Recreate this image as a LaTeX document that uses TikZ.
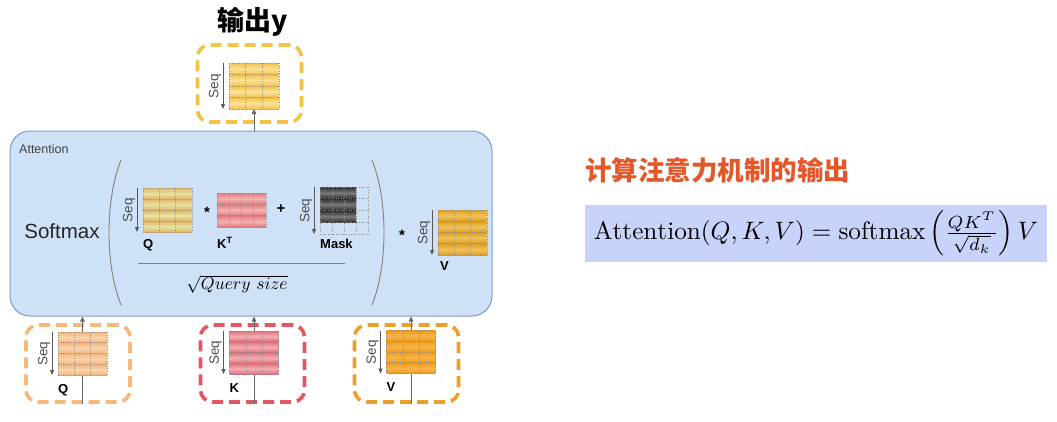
\documentclass[tikz,border=0pt]{standalone}
\usepackage{fontspec}
\usepackage{graphicx}
\usetikzlibrary{calc,arrows.meta}
\newfontfamily\arial{Liberation Sans}
\newfontfamily\cjk{Noto Sans CJK SC}

\definecolor{attfill}{HTML}{CFE1F7}
\definecolor{attline}{HTML}{7A9CC4}
\definecolor{fboxc}{HTML}{C8D3F9}
\definecolor{orangetitle}{HTML}{E2582A}
\definecolor{youtl}{HTML}{FCE39A}
\definecolor{youtd}{HTML}{F2C14A}
\definecolor{yboxc}{HTML}{F3C443}
\definecolor{qattl}{HTML}{E6E4A4}
\definecolor{qattd}{HTML}{E2B567}
\definecolor{ktl}{HTML}{F4B3B3}
\definecolor{ktd}{HTML}{E07C80}
\definecolor{maskhi}{HTML}{7A7A7A}
\definecolor{masklo}{HTML}{2E2E2E}
\definecolor{vattl}{HTML}{F2C35A}
\definecolor{vattd}{HTML}{DB9E22}
\definecolor{qinl}{HTML}{FAD5AC}
\definecolor{qind}{HTML}{F3B57E}
\definecolor{qboxc}{HTML}{F6B97B}
\definecolor{kinl}{HTML}{F2AEB4}
\definecolor{kind}{HTML}{DD717C}
\definecolor{kboxc}{HTML}{E35762}
\definecolor{vinl}{HTML}{F9B44A}
\definecolor{vind}{HTML}{EE9B1E}
\definecolor{vboxc}{HTML}{EC9F2C}

% dotted cell grid over a matrix node: (node)(cols:rows)
\def\cellgrid(#1)(#2:#3){%
	\foreach \i in {0,...,#2}
		\draw[cellline] ($(#1.north west)!{\i/#2}!(#1.north east)$) -- ($(#1.south west)!{\i/#2}!(#1.south east)$);
	\foreach \j in {0,...,#3}
		\draw[cellline] ($(#1.north west)!{\j/#3}!(#1.south west)$) -- ($(#1.north east)!{\j/#3}!(#1.south east)$);
}
% shaded rows plus grid: (node)(cols:rows:light:dark)
\def\stripes(#1)(#2:#3:#4:#5){%
	\foreach \j in {1,...,#3}
		\shade[top color=#5, bottom color=#5, middle color=#4] ($(#1.north west)!{(\j-1)/#3}!(#1.south west)$) rectangle ($(#1.north east)!{\j/#3}!(#1.south east)$);
	\cellgrid(#1)(#2:#3)
}
% the little "Seq" arrow on the left of a matrix
\def\seqarrow(#1){\draw[seqline] ([xshift=-6pt]#1.north west) -- ([xshift=-6pt]#1.south west) node[midway, seqlbl] {Seq};}

\begin{document}
\begin{tikzpicture}[x=1pt, y=-1pt,
	flow/.style={draw=black!60, line width=0.9pt, -{Triangle[length=5pt,width=4.5pt]}},
	seqline/.style={draw=black!65, line width=0.8pt, -{Triangle[length=5pt,width=4pt]}},
	seqlbl/.style={rotate=90, anchor=south, inner sep=1.5pt, text=black!70, font=\arial\fontsize{13.5}{15}\selectfont},
	lbl/.style={anchor=base west, inner sep=0pt, font=\arial\bfseries\fontsize{13}{15}\selectfont},
	op/.style={anchor=base, inner sep=0pt, font=\arial\bfseries\fontsize{15}{17}\selectfont},
	matbox/.style={inner sep=0pt, outer sep=0pt},
	dashbox/.style={draw=#1, line width=3.6pt, dash pattern=on 11pt off 6pt, rounded corners=12pt, minimum width=104pt, minimum height=77pt, inner sep=0pt},
	attbox/.style={draw=attline, fill=attfill, line width=1pt, rounded corners=20pt, inner sep=0pt},
	cellline/.style={draw=black!45, line width=0.6pt, dotted},
	paren/.style={draw=black!50, line width=0.9pt}]
	\useasboundingbox (0,0) rectangle (1057,421);

	% the output y on top
	\node[font=\cjk\bfseries\fontsize{27}{30}\selectfont] (ytitle) at (253,22) {输出y};
	\node[dashbox=yboxc] (ybox) at (249.5,83.5) {};
	\node[matbox, minimum width=50pt, minimum height=46pt] (ymat) at (254,86) {};

	% the attention block, with softmax, the two brackets and the fraction
	\node[attbox, minimum width=482pt, minimum height=185pt] (att) at (251,223.5) {};
	\node[anchor=west, inner sep=0pt, text=black!75, font=\arial\fontsize{12.5}{14}\selectfont] (attlbl) at (19,149) {Attention};
	\node[inner sep=0pt, text=black!85, font=\arial\fontsize{20.5}{24}\selectfont] (softmax) at (62,231) {Softmax};
	\draw[paren] (121,160) .. controls (105,200) and (105,265) .. (121,305);
	\draw[paren] (372,160) .. controls (388,200) and (388,265) .. (372,305);
	\draw[paren] (138,263) -- (345,263);
	\node[inner sep=0pt] (qsize) at (237,284) {\scalebox{1.75}{$\sqrt{Query\ size}$}};

	% matrices inside the attention block
	\node[matbox, minimum width=49pt, minimum height=44pt] (qm) at (167.5,210) {};
	\node[matbox, minimum width=49pt, minimum height=34pt] (ktm) at (241.5,210) {};
	\node[matbox, minimum width=48pt, minimum height=47pt] (maskm) at (344,210.5) {};
	\node[matbox, minimum width=36pt, minimum height=35.25pt, anchor=north west] (maskd) at (maskm.north west) {};
	\node[matbox, minimum width=49pt, minimum height=45pt] (vm) at (462.5,232.5) {};
	\node[op] (mulk) at (207,217) {*};
	\node[op] (plusm) at (281,213) {+};
	\node[op] (mulv) at (402,240.5) {*};

	% the three inputs at the bottom
	\node[dashbox=qboxc] (qbox) at (78,363.5) {};
	\node[dashbox=kboxc] (kbox) at (252.5,363.5) {};
	\node[dashbox=vboxc] (vbox) at (406.5,363.5) {};
	\node[matbox, minimum width=49pt, minimum height=43pt] (qin) at (82.5,353.5) {};
	\node[matbox, minimum width=49pt, minimum height=43pt] (kin) at (254,352.5) {};
	\node[matbox, minimum width=49pt, minimum height=43pt] (vin) at (411,352) {};

	% inputs run up into the block, the block runs up into y
	\draw[flow] (qin.south |- qbox.south) -- (qin.north |- att.south);
	\draw[flow] (kin.south |- kbox.south) -- (kin.north |- att.south);
	\draw[flow] (vin.south |- vbox.south) -- (vin.north |- att.south);
	\draw[flow] (ymat.south |- att.north) -- (ymat.south);

	% fill the matrices, then the Seq arrows and the names
	\stripes(ymat)(3:4:youtl:youtd)
	\stripes(qm)(3:4:qattl:qattd)
	\stripes(ktm)(4:3:ktl:ktd)
	\cellgrid(maskm)(4:4)
	\stripes(maskd)(3:3:maskhi:masklo)
	\stripes(vm)(3:4:vattl:vattd)
	\stripes(qin)(3:4:qinl:qind)
	\stripes(kin)(3:4:kinl:kind)
	\stripes(vin)(3:4:vinl:vind)
	\seqarrow(ymat)
	\seqarrow(qm)
	\seqarrow(maskm)
	\seqarrow(vm)
	\seqarrow(qin)
	\seqarrow(kin)
	\seqarrow(vin)
	\node[lbl] (qlbl) at ($(qm.south west)+(0,16)$) {Q};
	\node[lbl] (ktlbl) at ($(ktm.south west)+(0,21)$) {K\textsuperscript{T}};
	\node[lbl] (masklbl) at ($(maskm.south west)+(0,14)$) {Mask};
	\node[lbl] (vlbl) at ($(vm.south west)+(2,15)$) {V};
	\node[lbl] (qinlbl) at ($(qin.south west)+(0,18)$) {Q};
	\node[lbl] (kinlbl) at ($(kin.south west)+(0,18)$) {K};
	\node[lbl] (vinlbl) at ($(vin.south west)+(0,18)$) {V};

	% the formula on the right
	\node[anchor=west, inner sep=0pt, text=orangetitle, font=\cjk\bfseries\fontsize{26.5}{30}\selectfont] (ctitle) at (585,170) {计算注意力机制的输出};
	\node[fill=fboxc, minimum width=462pt, minimum height=57pt, inner sep=0pt] (formula) at (816,233.5) {\scalebox{2.52}{$\mathrm{Attention}(Q,K,V)=\mathrm{softmax}\left(\frac{QK^T}{\sqrt{d_k}}\right)V$}};
\end{tikzpicture}
\end{document}
